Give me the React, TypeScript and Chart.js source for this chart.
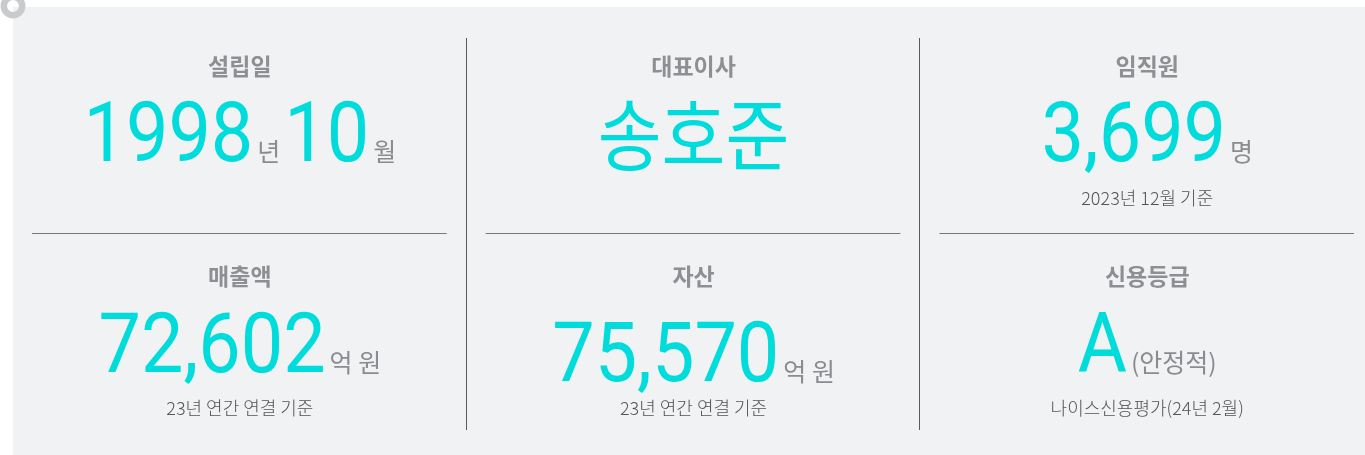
import React, { useEffect, useRef } from 'react';
import { Chart, registerables } from 'chart.js';

Chart.register(...registerables);

// ---- data ----
const titles = ['설립일', '대표이사', '임직원', '매출액', '자산', '신용등급'];
const figures = ['1998', '송호준', '3,699', '72,602', '75,570', 'A'];
const figureUnits = ['년', '', '명', '억 원', '억 원', '(안정적)'];
const extraFigures = ['10', '', '', '', '', ''];
const extraUnits = ['월', '', '', '', '', ''];
const notes = ['', '', '2023년 12월 기준', '23년 연간 연결 기준', '23년 연간 연결 기준', '나이스신용평가(24년 2월)'];

// ---- style ----
const COLS = 3;
const CYAN = '#00dcdc';
const PANEL = '#f1f2f4';
const TITLE_COLOR = '#8e8f93';
const UNIT_COLOR = '#8b8c8f';
const NOTE_COLOR = '#535457';
const KR = '"Noto Sans CJK KR", "Noto Sans", sans-serif';
const NUM = 'Roboto, "Noto Sans", sans-serif';

// vertical offsets (px) from each cell's centre, per row
const rowOffsets = [
  { title: -54, fig: 41, note: 78 },
  { title: -70, fig: 26, note: 62 },
];
const figureDrop = [0, 0, 0, 0, 9, 0];

const isKorean = (s: string) => /[가-힣]/.test(s);

type Seg = { text: string; kind: 'big' | 'unit' };

const infoPlugin = {
  id: 'infoPanel',
  beforeDraw(chart: any) {
    const { ctx, chartArea: a } = chart;
    ctx.save();
    ctx.fillStyle = PANEL;
    ctx.fillRect(a.left, a.top, a.right - a.left, a.bottom - a.top);
    ctx.strokeStyle = '#c9cacc';
    ctx.lineWidth = 6.5;
    ctx.beginPath();
    ctx.arc(a.left, a.top - 1, 9.2, 0, Math.PI * 2);
    ctx.stroke();
    ctx.restore();
  },
  afterDatasetsDraw(chart: any) {
    const { ctx, chartArea: a, scales } = chart;
    const x = scales.x;
    const y = scales.y;
    ctx.save();
    // vertical dividers
    ctx.strokeStyle = '#5a5a5c';
    ctx.lineWidth = 1;
    for (let c = 0; c < COLS - 1; c++) {
      const px = Math.round(x.getPixelForValue(c + 0.5)) - 0.5;
      ctx.beginPath();
      ctx.moveTo(px, a.top + 31);
      ctx.lineTo(px, a.bottom - 25);
      ctx.stroke();
    }
    // horizontal dividers
    const hy = Math.round(y.getPixelForValue(0.5)) + 0.5;
    ctx.strokeStyle = '#77787b';
    for (let c = 0; c < COLS; c++) {
      const l = Math.max(x.getPixelForValue(c - 0.5), a.left);
      const r = x.getPixelForValue(c + 0.5);
      ctx.beginPath();
      ctx.moveTo(l + 19, hy);
      ctx.lineTo(r - 20, hy);
      ctx.stroke();
    }

    const meta = chart.getDatasetMeta(0);
    meta.data.forEach((el: any, i: number) => {
      const cx = el.x;
      const cy = el.y;
      const row = Math.floor(i / COLS);
      const off = rowOffsets[row];

      // title
      ctx.fillStyle = TITLE_COLOR;
      ctx.font = `700 23px ${KR}`;
      ctx.textAlign = 'center';
      ctx.textBaseline = 'middle';
      ctx.fillText(titles[i], cx, cy + off.title);

      // figure line
      const segs: Seg[] = [];
      if (figures[i]) segs.push({ text: figures[i], kind: 'big' });
      if (figureUnits[i]) segs.push({ text: figureUnits[i], kind: 'unit' });
      if (extraFigures[i]) segs.push({ text: extraFigures[i], kind: 'big' });
      if (extraUnits[i]) segs.push({ text: extraUnits[i], kind: 'unit' });

      const styled = segs.map((s, k) => {
        let font: string;
        let sx = 1;
        let color: string;
        let dy = 0;
        if (s.kind === 'big') {
          color = CYAN;
          if (isKorean(s.text)) {
            font = `400 78px ${KR}`;
            sx = 0.89;
            dy = 4;
          } else {
            font = `400 83px ${NUM}`;
            sx = 0.91;
          }
        } else {
          color = UNIT_COLOR;
          font = `400 25px ${KR}`;
        }
        ctx.font = font;
        const w = ctx.measureText(s.text).width * sx;
        const gap = k === 0 ? 0 : 4;
        return { ...s, font, sx, color, w, gap, dy };
      });
      const total = styled.reduce((acc, s) => acc + s.w + s.gap, 0);
      let px = cx - total / 2;
      const base = cy + off.fig + figureDrop[i];
      ctx.textAlign = 'left';
      ctx.textBaseline = 'alphabetic';
      styled.forEach((s) => {
        px += s.gap;
        ctx.save();
        ctx.font = s.font;
        ctx.fillStyle = s.color;
        ctx.translate(px, base + s.dy);
        ctx.scale(s.sx, 1);
        ctx.fillText(s.text, 0, 0);
        ctx.restore();
        px += s.w;
      });

      // note
      if (notes[i]) {
        ctx.fillStyle = NOTE_COLOR;
        ctx.font = `300 18px ${KR}`;
        ctx.textAlign = 'center';
        ctx.textBaseline = 'middle';
        ctx.fillText(notes[i], cx, cy + off.note);
      }
    });
    ctx.restore();
  },
};

export default function App() {
  const ref = useRef<HTMLCanvasElement | null>(null);

  useEffect(() => {
    const canvas = ref.current;
    if (!canvas) return;
    const chart = new Chart(canvas, {
      type: 'scatter',
      data: {
        datasets: [
          {
            data: titles.map((_, i) => ({ x: i % COLS, y: Math.floor(i / COLS) })),
            pointRadius: 0,
            pointHoverRadius: 0,
            showLine: false,
          },
        ],
      },
      options: {
        responsive: false,
        animation: false,
        events: [],
        layout: { padding: { left: 13, top: 7, right: 0, bottom: 0 } },
        plugins: { legend: { display: false }, tooltip: { enabled: false } },
        scales: {
          x: { type: 'linear', min: -0.5, max: 2.48, display: false },
          y: { type: 'linear', min: -0.5, max: 1.48, reverse: true, display: false },
        },
      },
      plugins: [infoPlugin],
    } as any);
    let alive = true;
    const fonts = (document as any).fonts;
    if (fonts && fonts.load) {
      Promise.all([
        fonts.load(`400 83px Roboto`),
        fonts.load(`700 23px "Noto Sans CJK KR"`),
        fonts.load(`400 25px "Noto Sans CJK KR"`),
      ])
        .then(() => {
          if (alive) chart.draw();
        })
        .catch(() => {});
    }
    return () => {
      alive = false;
      chart.destroy();
    };
  }, []);

  return (
    <div style={{ position: 'absolute', left: 0, top: 0, width: 1365, height: 455, background: '#ffffff' }}>
      <canvas ref={ref} width={1365} height={455} style={{ display: 'block', width: 1365, height: 455 }} />
    </div>
  );
}
